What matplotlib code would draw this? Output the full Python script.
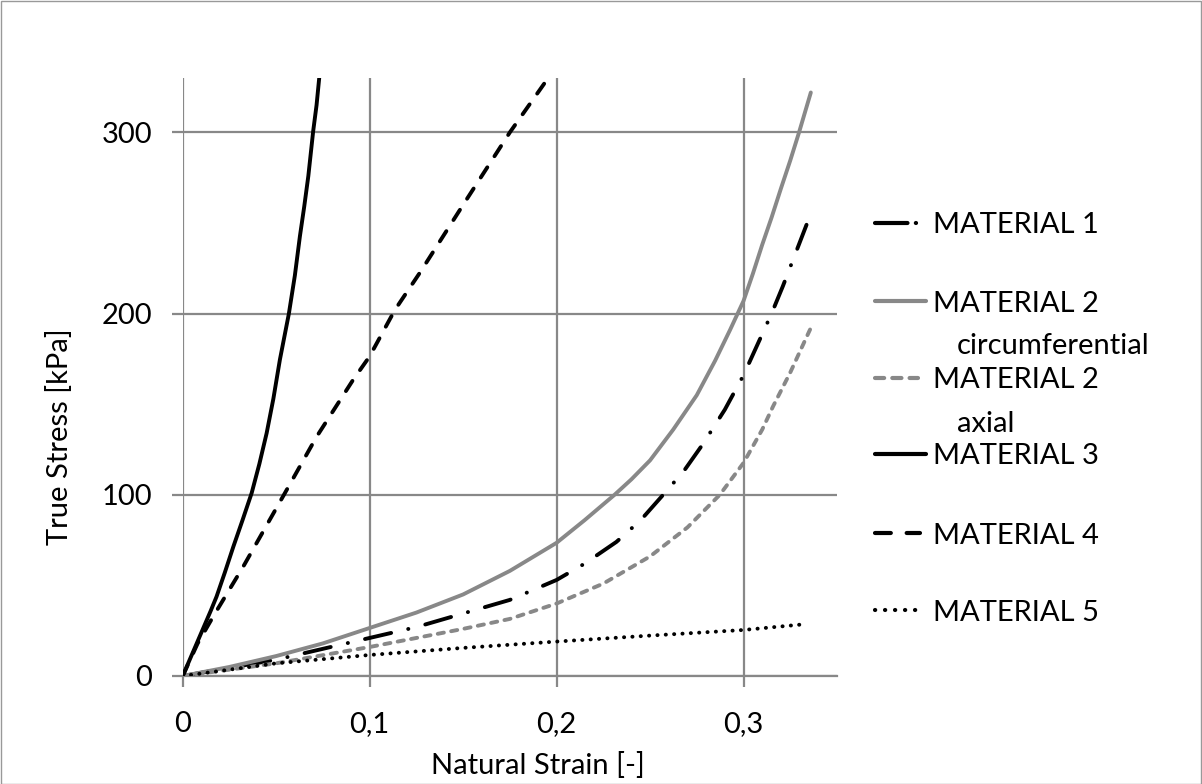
import matplotlib
matplotlib.use("Agg")
import matplotlib.pyplot as plt
from matplotlib.lines import Line2D
from matplotlib.patches import Rectangle

plt.rcParams['font.family'] = ['Lato', 'DejaVu Sans']

# ---- data ----
m1_x = [0, 0.05, 0.1, 0.125, 0.15, 0.175, 0.2, 0.215, 0.232, 0.245, 0.257, 0.268, 0.278,
        0.29, 0.3, 0.315, 0.321, 0.3337]
m1_y = [0, 9, 21, 27, 34.5, 42, 53, 62, 74, 86, 100, 113, 127.6, 147, 166, 200, 215, 249]

m2c_x = [0, 0.025, 0.05, 0.075, 0.1, 0.125, 0.15, 0.175, 0.2, 0.215, 0.231, 0.24, 0.25,
         0.2624, 0.275, 0.2848, 0.2928, 0.3, 0.305, 0.31, 0.315, 0.32, 0.325, 0.3297, 0.336]
m2c_y = [0, 5, 11, 18, 26.5, 35, 45, 58, 73.5, 86, 100, 108.5, 119, 136, 155, 174, 191,
         207, 222, 238, 253, 269, 284.5, 300, 322]

m2a_x = [0, 0.05, 0.1, 0.15, 0.175, 0.2, 0.225, 0.25, 0.27, 0.2873, 0.3, 0.31, 0.3158,
         0.325, 0.3337, 0.3364]
m2a_y = [0, 7, 16, 26, 31.5, 40, 51, 66, 82, 100, 117.6, 136, 148.8, 167.5, 187, 193]

m3_x = [0, 0.005, 0.01, 0.015, 0.0181, 0.0225, 0.0271, 0.032, 0.0369, 0.041, 0.0449,
        0.0485, 0.052, 0.0568, 0.06, 0.0627, 0.065, 0.0672, 0.0698, 0.0716, 0.0735]
m3_y = [0, 12, 24, 36, 43.8, 57, 71.4, 86, 101, 117, 134, 153, 174.6, 200, 221, 242.7,
        259, 275.9, 300.7, 315, 335]

m4_x = [0, 0.008, 0.0164, 0.0324, 0.0547, 0.0716, 0.0912, 0.1, 0.1135, 0.1269, 0.15,
        0.175, 0.1955]
m4_y = [0, 18, 33, 60.4, 101, 132, 163.5, 176.4, 202, 222.6, 260, 300, 330]

m5_x = [0, 0.05, 0.1, 0.15, 0.2, 0.25, 0.3, 0.333]
m5_y = [0, 7, 11.6, 15.5, 19, 22.3, 25.4, 28.6]

labels = ["MATERIAL 1", "MATERIAL 2\ncircumferential", "MATERIAL 2\naxial",
          "MATERIAL 3", "MATERIAL 4", "MATERIAL 5"]

x_ticks = [0, 0.1, 0.2, 0.3]
x_ticklabels = ["0", "0,1", "0,2", "0,3"]
y_ticks = [0, 100, 200, 300]
y_ticklabels = ["0", "100", "200", "300"]

# ---- figure ----
W, H = 1202, 784
fig = plt.figure(figsize=(W / 100, H / 100), dpi=100)
ax = fig.add_axes([182.7 / W, 1 - 676 / H, (837 - 182.7) / W, (676 - 78) / H])

gray = '#888888'
lw = 2.8
styles = [
    dict(color='black', ls=(0, (6.9, 4.5, 0.05, 4.5))),
    dict(color=gray, ls='-'),
    dict(color=gray, ls=(0, (1.6, 1.9))),
    dict(color='black', ls='-'),
    dict(color='black', ls=(0, (3.1, 3.4))),
    dict(color='black', ls=(0, (0.05, 2.1))),
]
legend_ls = [
    (0, (7.8, 2.0, 0.05, 10)),
    '-',
    (0, (2.2, 1.95)),
    '-',
    (0, (3.8, 3.8)),
    (0, (0.05, 2.35)),
]
legend_x1 = [926, 926, 918, 926, 920, 925]
series = [(m1_x, m1_y), (m2c_x, m2c_y), (m2a_x, m2a_y), (m3_x, m3_y), (m4_x, m4_y),
          (m5_x, m5_y)]

for (xs, ys), st in zip(series, styles):
    ax.plot(xs, ys, color=st['color'], linestyle=st['ls'], lw=lw,
            dash_capstyle='round', solid_capstyle='round',
            solid_joinstyle='round', zorder=3)

ax.set_xlim(0, 0.35)
ax.set_ylim(0, 330)
ax.set_xticks(x_ticks)
ax.set_xticklabels(x_ticklabels)
ax.set_yticks(y_ticks)
ax.set_yticklabels(y_ticklabels)
ax.grid(True, color=gray, lw=1.6, zorder=1)
for s in ['top', 'right', 'left']:
    ax.spines[s].set_visible(False)
ax.spines['bottom'].set_color(gray)
ax.spines['bottom'].set_linewidth(1.6)
ax.tick_params(axis='both', colors=gray, length=8, width=1.6, labelsize=21,
               labelcolor='black')
ax.tick_params(axis='y', pad=14)
ax.tick_params(axis='x', pad=17)
ax.set_xlabel("Natural Strain [-]", fontsize=21)
ax.set_ylabel("True Stress [kPa]", fontsize=21)
ax.xaxis.set_label_coords(0.543, -0.1505)
ax.xaxis.label.set_va('center')
ax.yaxis.set_label_coords(-0.189, 0.401)
ax.yaxis.label.set_va('center')
ax.yaxis.label.set_ha('center')

# ---- legend (manual placement) ----
handle_y = [223.3, 300.7, 378.3, 454, 533.3, 610]
base_y = [233, 311.7, 388, 463.5, 544, 621]
sub_base_y = [None, 354, 431.7, None, None, None]
for i, (lab, st) in enumerate(zip(labels, styles)):
    yf = 1 - handle_y[i] / H
    fig.add_artist(Line2D([875 / W, legend_x1[i] / W], [yf, yf], color=st['color'],
                          linestyle=legend_ls[i], lw=lw + 0.2,
                          dash_capstyle='round', solid_capstyle='round'))
    parts = lab.split("\n")
    fig.text(933 / W, 1 - base_y[i] / H, parts[0], fontsize=21, va='baseline',
             ha='left')
    if len(parts) > 1:
        fig.text(956.7 / W, 1 - sub_base_y[i] / H, parts[1], fontsize=21,
                 va='baseline', ha='left')

fig.add_artist(Rectangle((0.5 / W, 0.5 / H), 1 - 1.5 / W, 1 - 1.5 / H,
                         transform=fig.transFigure, fill=False,
                         edgecolor='#999999', lw=1))

fig.savefig("out.png", dpi=100)
